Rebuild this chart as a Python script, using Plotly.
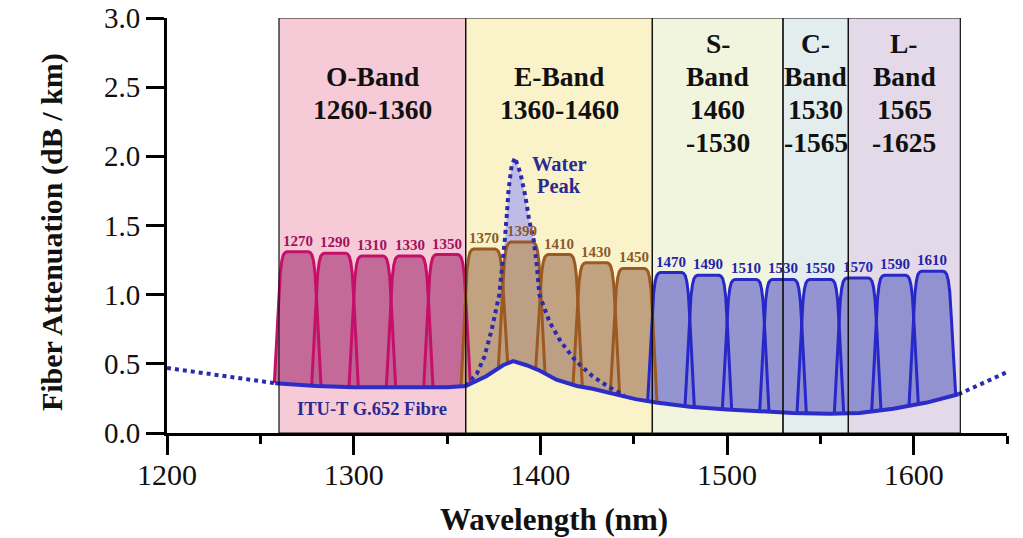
import numpy as np
import plotly.graph_objects as go

# ---------------- data ----------------
BAND_LINES = [["O-Band", "1260-1360"], ["E-Band", "1360-1460"], ["S-", "Band", "1460", "-1530"],
              ["C-", "Band", "1530", "-1565"], ["L-", "Band", "1565", "-1625"]]
BAND_START = [1260, 1360, 1460, 1530, 1565]
BAND_END = [1360, 1460, 1530, 1565, 1625]

# ITU-T G.652 fibre attenuation (solid part)
BASE_WL = [1258, 1280, 1300, 1330, 1350, 1360, 1371, 1380, 1385.5, 1392.6, 1399.8, 1408.6, 1419.6,
           1428, 1440, 1451, 1462, 1480, 1500, 1520, 1535, 1555, 1571, 1589, 1607, 1624]
BASE_DB = [0.36, 0.34, 0.33, 0.33, 0.33, 0.34, 0.41, 0.49, 0.52, 0.49, 0.45, 0.385, 0.34,
           0.32, 0.28, 0.245, 0.22, 0.19, 0.17, 0.155, 0.145, 0.14, 0.145, 0.175, 0.22, 0.28]
# dotted extensions
DOT_L_WL = [1200, 1215, 1230, 1245, 1258]
DOT_L_DB = [0.47, 0.44, 0.415, 0.385, 0.36]
DOT_R_WL = [1624, 1634, 1642, 1650]
DOT_R_DB = [0.28, 0.34, 0.39, 0.44]

# water peak (old fibre)
WP_WL = [1360, 1366, 1370, 1374, 1378, 1380, 1381, 1382, 1383, 1384.6, 1386.4, 1389.3, 1392,
         1394, 1396.4, 1398.2, 1399.5, 1405, 1411, 1419, 1428, 1437, 1445]
WP_DB = [0.34, 0.43, 0.55, 0.75, 1.0, 1.23, 1.40, 1.57, 1.76, 1.93, 1.99, 1.88, 1.71,
         1.54, 1.40, 1.20, 1.0, 0.80, 0.66, 0.52, 0.41, 0.33, 0.27]

# CWDM channels
CHANNELS = [1270, 1290, 1310, 1330, 1350, 1370, 1390, 1410, 1430, 1450,
            1470, 1490, 1510, 1530, 1550, 1570, 1590, 1610]
CH_PEAK = [1.31, 1.30, 1.28, 1.28, 1.29, 1.33, 1.38, 1.29, 1.23, 1.19,
           1.16, 1.14, 1.11, 1.11, 1.11, 1.12, 1.14, 1.17]
# filter passband profile (offset nm, fraction of height)
PROFILE_DX = [-12.5, -11.4, -10.3, -9.3, -8.5, -7.7, -6.8, -5.8, -4.5, 4.5, 5.8, 6.8, 7.7, 8.5, 9.3, 10.3, 11.4, 12.5]
PROFILE_FRAC = [0, 0.3, 0.6, 0.84, 0.93, 0.975, 0.993, 1, 1, 1, 1, 0.993, 0.975, 0.93, 0.84, 0.6, 0.3, 0]

X_TICKS = [1200, 1300, 1400, 1500, 1600]
Y_TICKS = [0.0, 0.5, 1.0, 1.5, 2.0, 2.5, 3.0]

# ---------------- styles ----------------
BAND_COLORS = ["#F6CAD6", "#FAF3C9", "#F1F5DE", "#E3EDEE", "#E3D9E8"]
GROUP_LINE = {"O": "#C4106A", "E": "#9C5A22", "B": "#2828C8"}
GROUP_FILL = {"O": "rgba(190,98,146,0.92)", "E": "rgba(188,156,124,0.92)", "B": "rgba(140,140,206,0.92)"}
GROUP_TEXT = {"O": "#A3105C", "E": "#8B5A2B", "B": "#2424A8"}
SERIF = "Liberation Serif"
LINE_GAP = 33  # px between band-label lines

all_wl = np.array(DOT_L_WL[:-1] + BASE_WL + DOT_R_WL[1:], dtype=float)
all_db = np.array(DOT_L_DB[:-1] + BASE_DB + DOT_R_DB[1:], dtype=float)


def base(x):
    return np.interp(x, all_wl, all_db)


def group(c):
    return "O" if c < 1360 else ("E" if c < 1460 else "B")


fig = go.Figure()

# bands: fill below the data, thin outline above it
for s, e, c in zip(BAND_START, BAND_END, BAND_COLORS):
    fig.add_shape(type="rect", x0=s, x1=e, y0=0, y1=3, xref="x", yref="y",
                  fillcolor=c, line=dict(width=0), layer="below")
    fig.add_shape(type="rect", x0=s, x1=e, y0=0, y1=3, xref="x", yref="y",
                  fillcolor="rgba(0,0,0,0)", line=dict(color="#111", width=1.2), layer="above")

# water peak fill
wp_x = np.array(WP_WL)
fig.add_trace(go.Scatter(x=list(wp_x) + list(wp_x[::-1]),
                         y=list(WP_DB) + list(base(wp_x[::-1])),
                         fill="toself", fillcolor="rgba(170,170,240,0.75)",
                         line=dict(width=0), mode="lines", hoverinfo="skip", showlegend=False))

# channels: fills first, then outlines
annotations = []
profiles = []
for c, pk in zip(CHANNELS, CH_PEAK):
    xs = c + np.array(PROFILE_DX)
    bs = base(xs)
    ys = bs + np.array(PROFILE_FRAC) * (pk - bs)
    profiles.append((c, pk, xs, ys, bs))
    fig.add_trace(go.Scatter(x=list(xs) + list(xs[::-1]), y=list(ys) + list(bs[::-1]),
                             fill="toself", fillcolor=GROUP_FILL[group(c)],
                             line=dict(width=0), mode="lines", hoverinfo="skip", showlegend=False))
for c, pk, xs, ys, bs in profiles:
    g = group(c)
    fig.add_trace(go.Scatter(x=xs, y=ys, mode="lines",
                             line=dict(color=GROUP_LINE[g], width=3),
                             hoverinfo="skip", showlegend=False))
    annotations.append(dict(x=c, y=pk, xref="x", yref="y", text=f"<b>{c}</b>", showarrow=False,
                            yanchor="bottom", yshift=1,
                            font=dict(family=SERIF, size=15, color=GROUP_TEXT[g])))

# water peak dotted outline
fig.add_trace(go.Scatter(x=WP_WL, y=WP_DB, mode="lines",
                         line=dict(color="#2A2AB0", width=4, dash="dot"),
                         hoverinfo="skip", showlegend=False))
# dotted extensions
for wx, wy in ((DOT_L_WL, DOT_L_DB), (DOT_R_WL, DOT_R_DB)):
    fig.add_trace(go.Scatter(x=wx, y=wy, mode="lines",
                             line=dict(color="#2A2AB0", width=4, dash="dot"),
                             hoverinfo="skip", showlegend=False))
# solid fibre curve
fig.add_trace(go.Scatter(x=BASE_WL, y=BASE_DB, mode="lines",
                         line=dict(color="#2C2CC8", width=4),
                         hoverinfo="skip", showlegend=False))

# band labels (one annotation per line for tight spacing)
for s, e, lines in zip(BAND_START, BAND_END, BAND_LINES):
    n = len(lines)
    for i, t in enumerate(lines):
        annotations.append(dict(x=(s + e) / 2, y=2.46, xref="x", yref="y", text=f"<b>{t}</b>",
                                showarrow=False, yanchor="middle", xanchor="center",
                                yshift=-(i - (n - 1) / 2) * LINE_GAP,
                                font=dict(family=SERIF, size=27.5, color="#111")))

annotations += [
    dict(x=1410.5, y=1.947, xref="x", yref="y", text="<b>Water</b>", showarrow=False,
         font=dict(family=SERIF, size=20.5, color="#2A2A90")),
    dict(x=1410, y=1.785, xref="x", yref="y", text="<b>Peak</b>", showarrow=False,
         font=dict(family=SERIF, size=20.5, color="#2A2A90")),
    dict(x=1309.7, y=0.17, xref="x", yref="y", text="<b>ITU-T G.652 Fibre</b>", showarrow=False,
         font=dict(family=SERIF, size=18.5, color="#2A2A90")),
    dict(x=-0.137, y=0.484, xref="paper", yref="paper", text="<b>Fiber Attenuation (dB / km)</b>",
         showarrow=False, textangle=-90, xanchor="center", yanchor="middle",
         font=dict(family=SERIF, size=30, color="#111")),
    dict(x=0.4607, y=-0.209, xref="paper", yref="paper", text="<b>Wavelength (nm)</b>",
         showarrow=False, xanchor="center", yanchor="middle",
         font=dict(family=SERIF, size=31, color="#111")),
]

fig.update_layout(
    width=1023, height=538,
    margin=dict(l=167, r=16, t=18, b=105),
    plot_bgcolor="white", paper_bgcolor="white",
    showlegend=False,
    annotations=annotations,
    xaxis=dict(range=[1200, 1650], tickvals=X_TICKS, ticktext=[str(v) for v in X_TICKS],
               automargin=False,
               showgrid=False, zeroline=False, showline=True, linecolor="#000", linewidth=3,
               ticks="outside", ticklen=19, tickwidth=3, tickcolor="#000", ticklabelstandoff=-6,
               minor=dict(ticks="outside", ticklen=8, tickwidth=3, tickcolor="#000", dtick=50, showgrid=False),
               tickfont=dict(family=SERIF, size=30, color="#111")),
    yaxis=dict(range=[0, 3], tickvals=Y_TICKS, ticktext=[f"{v:.1f}" for v in Y_TICKS],
               automargin=False,
               showgrid=False, zeroline=False, showline=True, linecolor="#000", linewidth=3,
               ticks="outside", ticklen=18, tickwidth=3, tickcolor="#000",
               tickfont=dict(family=SERIF, size=29, color="#111")),
)

fig.write_html("out.html", config={"displayModeBar": False},
               post_script="document.body.style.margin='0';")
